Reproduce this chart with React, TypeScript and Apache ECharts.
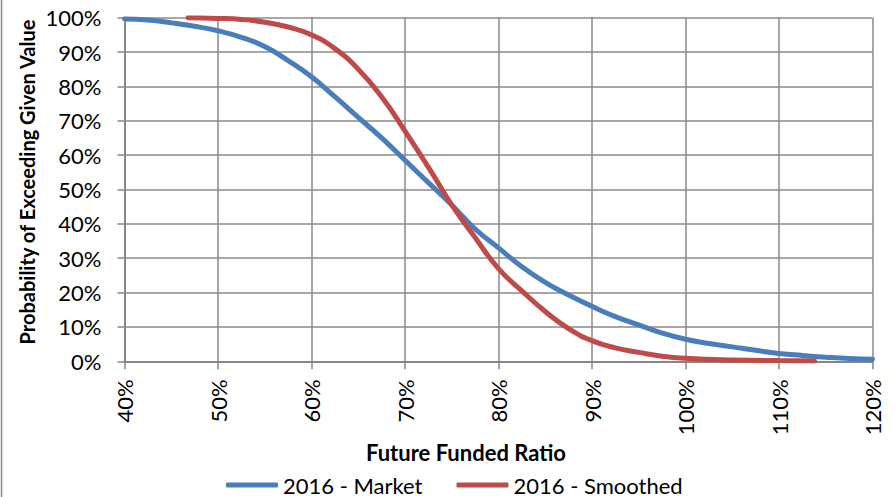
import React, { useEffect, useRef } from "react";
import * as echarts from "echarts";

const xTicks = [40, 50, 60, 70, 80, 90, 100, 110, 120];
const yTicks = [0, 10, 20, 30, 40, 50, 60, 70, 80, 90, 100];

const marketRatio = [40, 42.5, 45, 47.5, 50, 52.5, 55, 57.5, 60, 62.5, 65, 67.5, 70, 72.5, 75, 77.5, 80, 82.5, 85, 87.5, 90, 92.5, 95, 97.5, 100, 102.5, 105, 107.5, 110, 112.5, 115, 117.5, 120];
const marketProb = [99.6, 99.3, 98.5, 97.5, 96.2, 94.3, 91.6, 87.5, 82.8, 77, 71, 65, 58.5, 52, 45.5, 38.5, 33, 27.5, 23, 19.3, 16, 13, 10.6, 8.2, 6.4, 5.2, 4.2, 3.2, 2.3, 1.7, 1.2, 0.8, 0.6];

const smoothedRatio = [46.8, 50, 52.5, 55, 57.5, 60, 62.5, 65, 67.5, 70, 72.5, 75, 77.5, 80, 82.5, 85, 87.5, 90, 92.5, 95, 97.5, 100, 105, 110, 113.8];
const smoothedProb = [100, 99.8, 99.5, 98.7, 97.3, 95, 91, 85, 77, 67, 56.5, 45.5, 36, 27, 20.5, 14.5, 9.5, 6, 3.9, 2.6, 1.5, 0.9, 0.4, 0.2, 0.1];

const seriesNames = ["2016 - Market", "2016 - Smoothed"];
const xTitle = "Future Funded Ratio";
const yTitle = "Probability of Exceeding Given Value";

const FONT = "Lato, 'DejaVu Sans', sans-serif";

export default function App() {
  const ref = useRef<HTMLDivElement>(null);
  useEffect(() => {
    if (!ref.current) return;
    const chart = echarts.init(ref.current, null, { renderer: "svg" });
    const gridColor = "#8a8a8a";
    chart.setOption({
      animation: false,
      backgroundColor: "#ffffff",
      textStyle: { fontFamily: FONT },
      grid: {
        left: 124.5,
        right: 20.5,
        top: 17.7,
        bottom: 135.7,
        containLabel: false,
        outerBoundsMode: "none",
      },
      xAxis: {
        type: "value",
        min: xTicks[0],
        max: xTicks[xTicks.length - 1],
        interval: 10,
        axisLine: { show: true, onZero: false, lineStyle: { color: "#868686", width: 2 } },
        axisTick: { show: true, length: 8, lineStyle: { color: "#868686", width: 1.5 } },
        splitLine: { show: true, lineStyle: { color: gridColor, width: 1.5 } },
        axisLabel: {
          rotate: 90,
          margin: 18,
          color: "#000",
          fontSize: 22,
          fontFamily: FONT,
          formatter: (v: number) => `${v}%`,
        },
      },
      yAxis: {
        type: "value",
        min: yTicks[0],
        max: yTicks[yTicks.length - 1],
        interval: 10,
        axisLine: { show: true, lineStyle: { color: "#868686", width: 2 } },
        axisTick: { show: true, length: 7, lineStyle: { color: "#868686", width: 1.5 } },
        splitLine: { show: true, lineStyle: { color: gridColor, width: 1.5 } },
        axisLabel: {
          margin: 23,
          color: "#000",
          fontSize: 22,
          fontFamily: FONT,
          formatter: (v: number) => `${v}%`,
        },
      },
      legend: {
        left: 221,
        top: 469,
        itemWidth: 52,
        itemHeight: 5,
        itemGap: 34,
        icon: "roundRect",
        textStyle: { fontSize: 22, color: "#000", fontFamily: FONT },
        data: seriesNames,
      },
      graphic: [
        {
          type: "line",
          shape: { x1: 1.5, y1: 0, x2: 1.5, y2: 497 },
          style: { stroke: "#8c8c8c", lineWidth: 1.5 },
        },
        {
          type: "text",
          x: 27,
          y: 182,
          rotation: Math.PI / 2,
          style: {
            text: yTitle,
            font: `bold 20px ${FONT}`,
            fill: "#000",
            align: "center",
            verticalAlign: "middle",
          },
        },
        {
          type: "text",
          x: 466,
          y: 452,
          style: {
            text: xTitle,
            font: `bold 22px ${FONT}`,
            fill: "#000",
            align: "center",
            verticalAlign: "middle",
          },
        },
      ],
      series: [
        {
          name: seriesNames[0],
          type: "line",
          data: marketRatio.map((x, i) => [x, marketProb[i]]),
          showSymbol: false,
          symbol: "none",
          smooth: 0.5,
          lineStyle: { color: "#4a7ebb", width: 5, cap: "round" },
          itemStyle: { color: "#4a7ebb" },
        },
        {
          name: seriesNames[1],
          type: "line",
          data: smoothedRatio.map((x, i) => [x, smoothedProb[i]]),
          showSymbol: false,
          symbol: "none",
          smooth: 0.5,
          lineStyle: { color: "#be4b48", width: 5, cap: "round" },
          itemStyle: { color: "#be4b48" },
        },
      ],
    });
    return () => chart.dispose();
  }, []);
  return (
    <div
      ref={ref}
      style={{ position: "fixed", left: 0, top: 0, width: 893, height: 497, background: "#fff" }}
    />
  );
}
